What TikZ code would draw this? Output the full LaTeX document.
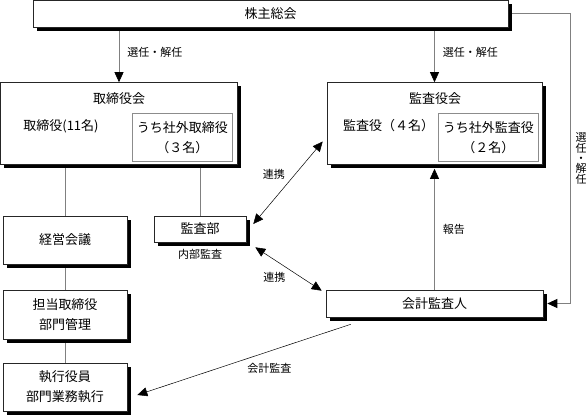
\documentclass[tikz,border=0pt]{standalone}
\usepackage{fontspec}
\setmainfont{Noto Sans CJK JP}
\usetikzlibrary{arrows.meta,shadows,positioning,backgrounds}

\begin{document}
\begin{tikzpicture}[x=1pt,y=-1pt,
		>={Triangle[length=10pt,width=9pt,color=black]},
		box/.style 2 args={draw=black!85,line width=.6pt,fill=white,
			minimum width=#1,minimum height=#2,inner sep=0pt,align=center,
			font=\fontsize{13pt}{20pt}\selectfont,
			drop shadow={shadow xshift=3.5pt,shadow yshift=-3.5pt,fill=black,opacity=1}},
		inbox/.style 2 args={draw=black!45,line width=.8pt,
			minimum width=#1,minimum height=#2,inner sep=0pt,align=center,
			font=\fontsize{13pt}{20pt}\selectfont},
		txt/.style={inner sep=0pt,font=\fontsize{13pt}{20pt}\selectfont},
		lbl/.style={inner sep=3pt,font=\fontsize{11pt}{11pt}\selectfont},
		gline/.style={draw=black!50,line width=.7pt},
		bline/.style={draw=black,line width=.5pt}]
	\useasboundingbox (0,0) rectangle (587,416);
	\node[box={475pt}{27pt}] (sou) at (270.5,13.5) {株主総会};
	\node[box={237pt}{82pt}] (tori) at (119,123.5) {};
	\node[txt] (toriT) at (119,99) {取締役会};
	\node[txt] (toriN) at (61,126) {取締役(11名)};
	\node[inbox={100pt}{48pt}] (toriS) at (182.3,137.5) {うち社外取締役\\（３名）};
	\node[box={215pt}{82pt}] (kansa) at (434.5,123.5) {};
	\node[txt] (kansaT) at (435,99) {監査役会};
	\node[txt] (kansaN) at (388.7,126) {監査役（４名）};
	\node[inbox={100pt}{48pt}] (kansaS) at (488.3,137.5) {うち社外監査役\\（２名）};
	\node[box={124pt}{48pt}] (keiei) at (65,240) {経営会議};
	\node[box={92pt}{26pt}] (kansabu) at (200,229) {監査部};
	\node[lbl,below=4pt of kansabu] (naibu) {内部監査};
	\node[box={124pt}{49pt}] (tanto) at (65,314.5) {担当取締役\\部門管理};
	\node[box={124pt}{48pt}] (shikko) at (65,387) {執行役員\\部門業務執行};
	\node[box={217pt}{27pt}] (kaikei) at (434.5,303.5) {会計監査人};
	\begin{scope}[on background layer]
		\draw[gline,->] (sou.south -| tori.north) -- node[lbl,pos=.45,right=5pt]{選任・解任} (tori.north);
		\draw[gline,->] (sou.south -| kansa.north) -- node[lbl,pos=.45,right=5pt]{選任・解任} (kansa.north);
		\draw[gline] (tori.south -| keiei.north) -- (keiei.north);
		\draw[gline] (tori.south -| kansabu.north) -- (kansabu.north);
		\draw[gline] (keiei.south) -- (tanto.north);
		\draw[gline] (tanto.south) -- (shikko.north);
		\draw[gline,->] (kaikei.north) -- node[lbl,right=5pt]{報告} ([yshift=-4pt]kansa.south);
		\draw[gline,->] (sou.east) -- ++(62,0)
			|- node[lbl,pos=.25,right=2pt,align=center,font=\fontsize{11pt}{10.4pt}\selectfont]{選\\任\\・\\解\\任}
			([xshift=4pt]kaikei.east);
		\draw[bline,<->] ([shift={(7,-5)}]kansabu.east) -- node[lbl,above left]{連携} ([shift={(-4,18)}]kansa.west);
		\draw[bline,<->] ([shift={(9,5)}]kansabu.south east) -- node[lbl,below left]{連携} ([shift={(-4,1)}]kaikei.north west);
		\draw[bline,->] ([shift={(25,7)}]kaikei.south west) -- node[lbl,below right]{会計監査} ([shift={(10,8)}]shikko.east);
	\end{scope}
\end{tikzpicture}
\end{document}
